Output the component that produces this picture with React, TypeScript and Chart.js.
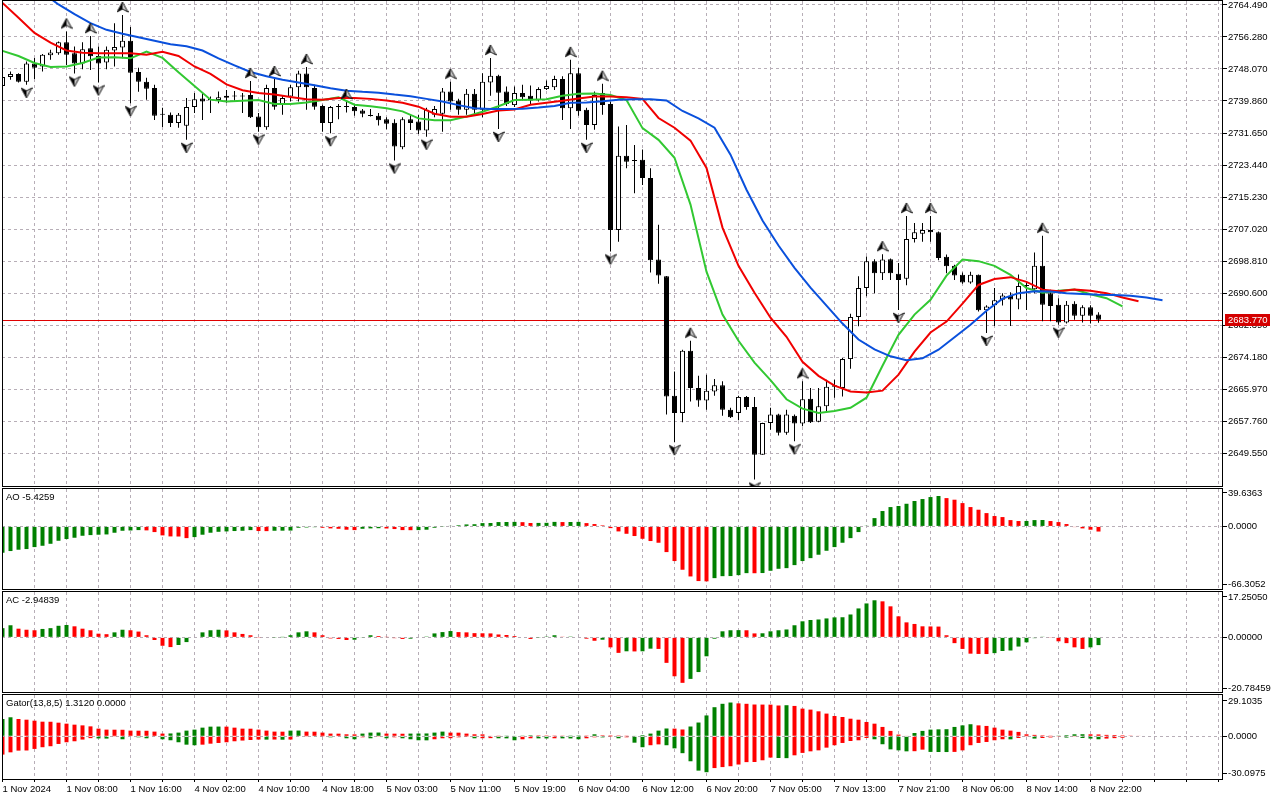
import React, { useEffect, useRef } from "react";
import { Chart, registerables } from "chart.js";

Chart.register(...registerables);

// ---------------- data ----------------
const xLabels = [
  "1 Nov 2024", "1 Nov 08:00", "1 Nov 16:00", "4 Nov 02:00", "4 Nov 10:00", "4 Nov 18:00",
  "5 Nov 03:00", "5 Nov 11:00", "5 Nov 19:00", "6 Nov 04:00", "6 Nov 12:00", "6 Nov 20:00",
  "7 Nov 05:00", "7 Nov 13:00", "7 Nov 21:00", "8 Nov 06:00", "8 Nov 14:00", "8 Nov 22:00",
];

const priceTicks = [
  2764.49, 2756.28, 2748.07, 2739.86, 2731.65, 2723.44, 2715.23, 2707.02,
  2698.81, 2690.6, 2682.39, 2674.18, 2665.97, 2657.76, 2649.55,
];
const priceMin = 2641.16;
const priceMax = 2765.49;
const currentPrice = 2683.77;

const opens = [
  2743.7, 2746.0, 2746.8, 2744.8, 2749.5, 2748.7, 2751.6, 2752.1, 2754.9, 2752.1,
  2749.5, 2753.4, 2751.4, 2749.7, 2752.8, 2753.6, 2755.3, 2747.3, 2744.8, 2743.2,
  2736.3, 2736.3, 2734.2, 2733.5, 2738.3, 2740.5, 2740.1, 2740.1, 2741.2, 2741.2,
  2741.2, 2741.4, 2735.9, 2733.1, 2743.2, 2738.9, 2741.0, 2743.4, 2746.9, 2743.2,
  2738.6, 2734.2, 2738.3, 2738.3, 2738.3, 2737.4, 2736.1, 2736.1, 2735.2, 2734.3,
  2728.0, 2735.2, 2734.6, 2732.3, 2736.3, 2736.6, 2742.3, 2740.0, 2737.6, 2741.7,
  2737.6, 2744.6, 2746.3, 2742.3, 2738.8, 2741.9, 2741.2, 2740.1, 2742.9, 2743.4,
  2745.5, 2738.0, 2747.0, 2737.6, 2733.7, 2741.9, 2739.1, 2706.8, 2725.8, 2724.7,
  2724.8, 2720.1, 2699.2, 2694.9, 2664.3, 2659.9, 2675.8, 2666.3, 2663.1, 2665.4,
  2667.0, 2660.7, 2659.9, 2664.0, 2661.4, 2649.2, 2657.3, 2659.5, 2654.8, 2659.2,
  2657.2, 2663.5, 2657.6, 2661.6, 2666.6, 2666.3, 2673.7, 2684.5, 2691.9, 2698.8,
  2695.7, 2699.3, 2695.6, 2694.3, 2704.5, 2705.8, 2706.8, 2706.2, 2699.9, 2697.6,
  2695.3, 2693.3, 2695.3, 2686.2, 2687.5, 2688.9, 2689.9, 2689.0, 2692.4, 2691.6,
  2697.6, 2690.6, 2687.6, 2683.1, 2687.9, 2684.8, 2687.0, 2685.1,
];
const highs = [
  2746.6, 2747.4, 2747.0, 2750.0, 2750.9, 2751.9, 2753.0, 2755.1, 2757.7, 2753.8,
  2754.9, 2756.5, 2753.8, 2753.8, 2759.8, 2761.9, 2758.8, 2748.4, 2745.8, 2744.0,
  2738.1, 2736.9, 2736.8, 2740.6, 2741.9, 2741.9, 2741.0, 2742.3, 2742.7, 2742.4,
  2741.9, 2745.0, 2736.8, 2744.0, 2745.5, 2741.4, 2744.0, 2747.6, 2748.6, 2744.0,
  2738.9, 2738.6, 2739.1, 2739.6, 2738.9, 2737.8, 2737.8, 2736.8, 2735.7, 2735.2,
  2735.7, 2736.3, 2736.3, 2738.1, 2738.6, 2743.2, 2744.8, 2740.4, 2742.9, 2742.9,
  2747.0, 2750.9, 2746.6, 2743.6, 2743.6, 2744.0, 2743.8, 2743.4, 2745.1, 2746.3,
  2746.2, 2750.4, 2748.3, 2738.1, 2742.3, 2744.3, 2739.7, 2733.3, 2733.7, 2728.6,
  2727.4, 2722.6, 2708.1, 2695.0, 2670.5, 2676.1, 2678.4, 2669.4, 2669.7, 2668.6,
  2668.0, 2661.2, 2664.3, 2664.2, 2664.0, 2657.4, 2661.2, 2659.7, 2660.7, 2659.5,
  2668.0, 2666.3, 2666.3, 2668.4, 2668.4, 2674.0, 2685.3, 2694.9, 2700.0, 2699.3,
  2700.6, 2699.5, 2698.3, 2710.4, 2708.6, 2708.6, 2710.4, 2706.4, 2700.5, 2697.9,
  2695.9, 2696.1, 2695.4, 2687.5, 2691.9, 2690.6, 2690.8, 2695.4, 2693.3, 2701.0,
  2705.3, 2691.5, 2689.3, 2688.6, 2688.5, 2687.5, 2687.5, 2685.7,
];
const lows = [
  2743.2, 2745.3, 2744.6, 2744.0, 2745.5, 2747.4, 2750.4, 2751.7, 2749.1, 2746.9,
  2748.0, 2747.8, 2744.6, 2748.0, 2748.7, 2750.8, 2739.3, 2742.2, 2740.2, 2735.0,
  2733.2, 2733.2, 2733.0, 2729.9, 2736.8, 2735.0, 2736.8, 2739.3, 2739.4, 2739.9,
  2736.8, 2735.5, 2732.0, 2732.5, 2737.6, 2736.3, 2739.7, 2739.7, 2737.6, 2737.6,
  2732.0, 2731.6, 2735.2, 2736.9, 2736.1, 2735.7, 2735.9, 2733.6, 2732.6, 2724.6,
  2727.5, 2732.4, 2731.4, 2730.7, 2735.7, 2732.0, 2737.6, 2736.3, 2736.3, 2736.3,
  2735.7, 2741.2, 2732.7, 2738.6, 2738.3, 2740.0, 2739.1, 2739.7, 2742.7, 2742.7,
  2735.0, 2732.7, 2736.1, 2729.9, 2732.5, 2736.3, 2701.3, 2703.8, 2722.6, 2716.2,
  2718.3, 2695.9, 2693.0, 2659.5, 2652.4, 2657.5, 2662.8, 2661.5, 2660.7, 2664.3,
  2659.2, 2658.6, 2658.0, 2660.7, 2642.8, 2649.2, 2655.6, 2654.1, 2654.3, 2652.6,
  2656.5, 2657.3, 2657.5, 2660.3, 2663.8, 2664.1, 2671.2, 2682.1, 2689.8, 2690.6,
  2694.0, 2694.0, 2686.3, 2692.6, 2703.6, 2703.8, 2703.8, 2699.0, 2695.7, 2694.0,
  2693.0, 2693.0, 2685.9, 2680.4, 2682.2, 2687.4, 2682.2, 2686.5, 2686.3, 2690.6,
  2683.4, 2683.4, 2682.5, 2682.8, 2683.8, 2683.1, 2682.8, 2683.0,
];
const closes = [
  2746.0, 2746.8, 2744.8, 2749.5, 2748.4, 2751.7, 2752.3, 2754.9, 2751.7, 2749.5,
  2753.1, 2751.3, 2749.5, 2753.0, 2753.7, 2755.3, 2747.1, 2744.8, 2743.0, 2736.1,
  2736.3, 2734.2, 2736.3, 2738.3, 2740.3, 2739.7, 2740.2, 2740.8, 2740.7, 2741.0,
  2741.0, 2735.7, 2733.1, 2743.2, 2738.4, 2740.6, 2743.4, 2746.9, 2743.4, 2738.4,
  2734.2, 2738.3, 2738.5, 2738.4, 2737.2, 2736.6, 2736.0, 2734.9, 2734.0, 2728.2,
  2735.2, 2734.2, 2732.3, 2737.6, 2737.8, 2742.3, 2739.7, 2737.6, 2741.7, 2737.6,
  2744.8, 2746.3, 2742.0, 2739.1, 2741.9, 2740.8, 2740.0, 2742.9, 2743.7, 2745.5,
  2738.0, 2747.0, 2737.2, 2733.7, 2741.4, 2738.8, 2706.8, 2725.8, 2724.3, 2724.5,
  2720.1, 2699.0, 2695.1, 2664.1, 2659.9, 2675.8, 2666.3, 2663.1, 2665.6, 2667.0,
  2660.7, 2658.8, 2664.0, 2661.4, 2649.2, 2657.3, 2659.5, 2654.8, 2659.5, 2657.2,
  2663.4, 2657.5, 2661.6, 2666.6, 2667.0, 2673.7, 2684.5, 2691.9, 2698.8, 2695.7,
  2699.2, 2695.7, 2694.0, 2704.5, 2706.2, 2706.8, 2706.2, 2699.6, 2697.5, 2695.1,
  2693.3, 2695.3, 2686.2, 2687.2, 2688.8, 2690.0, 2689.0, 2692.4, 2692.6, 2697.6,
  2687.6, 2687.3, 2683.1, 2687.6, 2684.8, 2687.0, 2684.8, 2683.77,
];

const upFractalBars = [8, 11, 15, 31, 34, 38, 43, 56, 61, 71, 75, 86, 100, 110, 113, 116, 130];
const downFractalBars = [3, 9, 12, 16, 23, 32, 41, 49, 53, 62, 73, 76, 84, 94, 99, 112, 123, 132];

// Alligator lines (already shifted forward), one value every 2 bars
const jawStart = 1;
const jawValues = [
  2775.0, 2770.9, 2767.6, 2764.6, 2762.1, 2759.8, 2758.1, 2757.1, 2756.2, 2755.3,
  2754.4, 2753.9, 2752.8, 2750.8, 2749.0, 2747.3, 2746.2, 2745.3, 2744.6, 2743.9,
  2743.1, 2742.5, 2742.2, 2742.0, 2741.5, 2741.1, 2740.4, 2739.7, 2738.8, 2738.0,
  2737.8, 2737.8, 2737.9, 2738.2, 2738.6, 2739.4, 2739.5, 2739.8, 2740.2, 2740.3,
  2740.3, 2740.0, 2737.3, 2735.4, 2733.0, 2726.1, 2717.1, 2709.2, 2702.8, 2697.1,
  2692.0, 2687.4, 2682.8, 2678.7, 2676.2, 2674.4, 2673.4, 2673.9, 2676.1, 2679.3,
  2682.5, 2686.1, 2689.2, 2690.6, 2691.1, 2691.0, 2690.6, 2690.4, 2690.2, 2690.1,
  2689.9, 2689.5, 2688.8,
];
const teethStart = 0;
const teethValues = [
  2765.0, 2761.2, 2757.3, 2754.8, 2752.8, 2752.2, 2752.1, 2752.1, 2752.1, 2751.7,
  2752.5, 2751.4, 2748.7, 2746.8, 2744.1, 2742.6, 2741.9, 2741.5, 2740.9, 2740.3,
  2740.2, 2740.6, 2740.6, 2740.4, 2740.0, 2739.4, 2738.4, 2736.6, 2735.8, 2735.8,
  2736.5, 2737.4, 2737.7, 2738.9, 2739.4, 2739.9, 2740.5, 2741.0, 2741.0, 2740.8,
  2740.4, 2735.5, 2733.0, 2729.7, 2722.7, 2707.4, 2697.6, 2690.7, 2684.3, 2679.4,
  2673.0, 2669.4, 2666.9, 2665.4, 2665.1, 2665.6, 2669.7, 2675.6, 2680.5, 2683.3,
  2687.9, 2692.7, 2694.2, 2694.7, 2693.5, 2691.5, 2691.1, 2691.5, 2691.2, 2690.6,
  2689.5, 2688.5,
];
const lipsStart = 0;
const lipsValues = [
  2752.7, 2751.4, 2749.6, 2748.6, 2748.7, 2749.6, 2751.0, 2751.1, 2750.8, 2752.5,
  2750.9, 2747.2, 2743.7, 2740.2, 2739.7, 2739.9, 2740.1, 2739.1, 2739.1, 2739.5,
  2740.1, 2740.8, 2738.9, 2738.5, 2738.0, 2737.2, 2735.4, 2734.9, 2734.9, 2735.9,
  2737.1, 2738.5, 2740.1, 2740.2, 2740.3, 2741.2, 2741.7, 2741.8, 2741.4, 2740.1,
  2732.9, 2729.9, 2725.3, 2713.3, 2696.1, 2685.1, 2678.4, 2672.8, 2668.3, 2663.4,
  2661.0, 2659.9, 2660.4, 2661.2, 2663.8, 2672.0, 2679.9, 2685.1, 2688.9, 2695.1,
  2699.2, 2698.8, 2697.6, 2695.3, 2691.9, 2690.7, 2691.2, 2691.5, 2690.3, 2689.3,
  2687.2,
];

const aoValues = [
  -27.9, -26.1, -24.7, -24.0, -21.9, -20.5, -18.4, -15.2, -13.4, -12.0,
  -9.9, -9.2, -8.8, -8.5, -6.7, -4.6, -4.3, -3.9, -4.2, -6.0,
  -9.5, -10.6, -10.7, -12.4, -11.3, -8.8, -6.7, -5.7, -5.3, -4.9,
  -4.6, -3.9, -4.9, -5.0, -4.6, -4.5, -4.4, -1.4, -1.1, -0.8,
  -1.4, -2.1, -2.5, -3.5, -3.9, -2.5, -2.1, -1.9, -2.2, -2.8,
  -3.9, -4.0, -3.9, -3.5, -1.4, -0.3, 0.4, 1.2, 2.1, 2.3,
  3.5, 3.6, 4.6, 4.7, 4.8, 4.5, 3.6, 3.7, 3.8, 4.8,
  4.6, 4.7, 4.8, 3.5, 2.5, 1.1, -1.8, -5.3, -7.8, -10.2,
  -13.1, -15.5, -17.3, -27.2, -36.7, -45.9, -53.0, -57.9, -58.2, -54.8,
  -52.7, -52.6, -51.6, -49.5, -49.6, -49.4, -47.0, -44.9, -44.2, -41.0,
  -36.7, -33.6, -30.0, -25.8, -21.9, -17.3, -12.4, -6.0, 0.7, 8.8,
  16.3, 20.5, 21.6, 24.0, 26.9, 29.0, 31.1, 32.2, 30.0, 28.3,
  24.7, 20.5, 17.7, 14.1, 11.0, 9.9, 6.7, 5.7, 5.8, 6.7,
  6.8, 5.7, 4.6, 2.5, -0.7, -2.1, -3.5, -5.4259,
];
const acValues = [
  3.5, 4.6, 3.3, 2.9, 2.7, 3.2, 3.5, 4.4, 4.7, 4.2,
  3.3, 2.7, 1.4, 1.2, 1.9, 2.9, 2.7, 2.2, 0.8, -1.0,
  -3.2, -3.7, -2.9, -1.8, -0.2, 1.9, 2.7, 2.9, 2.65, 1.9,
  1.3, 0.8, -0.1, -0.2, -0.1, 0.05, 0.8, 1.9, 2.3, 1.9,
  0.8, -0.4, -0.6, -1.0, -0.9, -0.25, 0.8, 0.5, 0.1, -0.3,
  -0.6, -0.5, -0.2, 0.3, 1.5, 2.0, 2.4, 2.0, 1.9, 1.6,
  1.55, 1.5, 1.1, 0.9, 0.5, 0.0, -0.6, -0.1, 0.3, 0.8,
  0.25, 0.3, 0.2, -0.5, -1.3, -0.9, -3.8, -5.9, -5.3, -5.35,
  -5.3, -4.3, -4.4, -9.7, -14.8, -17.3, -15.8, -13.2, -7.2, -0.5,
  2.3, 2.7, 2.75, 2.7, 1.5, 1.55, 2.3, 2.7, 3.0, 4.6,
  6.1, 6.6, 6.8, 7.2, 7.6, 7.65, 8.7, 11.0, 12.9, 14.1,
  13.7, 11.8, 8.0, 5.7, 5.1, 4.2, 4.15, 4.1, 0.8, -2.2,
  -4.4, -6.2, -6.3, -6.35, -6.0, -5.2, -5.0, -3.5, -1.9, -0.3,
  0.25, -0.25, -1.5, -2.2, -3.8, -4.4, -3.8, -2.94839,
];
const gatorUpper = [
  12.2, 13.4, 12.2, 11.7, 11.0, 10.3, 10.25, 9.6, 8.9, 8.2,
  7.7, 7.0, 5.4, 4.7, 4.65, 4.6, 4.0, 3.95, 3.9, 3.3,
  1.9, 2.0, 2.6, 4.0, 4.7, 6.1, 6.8, 6.85, 6.8, 6.1,
  5.4, 5.35, 4.7, 4.0, 3.3, 3.25, 4.0, 4.05, 3.3, 3.25,
  2.6, 1.9, 1.85, 1.4, 1.35, 1.9, 2.6, 2.65, 1.9, 1.85,
  1.8, 1.9, 1.95, 2.0, 2.6, 3.3, 2.6, 2.55, 1.9, 1.4,
  1.35, 0.3, 0.1, 0.2, 0.3, 0.5, 0.7, 0.65, 0.6, 0.55,
  0.5, 0.55, 0.6, 0.55, 1.4, 0.7, 0.65, 0.6, 0.1, 0.3,
  0.8, 1.9, 4.0, 5.5, 5.4, 4.8, 6.9, 9.7, 14.7, 20.5,
  22.9, 23.8, 23.2, 22.9, 22.4, 22.35, 22.3, 21.7, 21.9, 21.4,
  19.5, 18.8, 17.6, 16.0, 14.3, 13.6, 12.4, 11.7, 10.1, 8.9,
  6.6, 3.8, 1.2, 0.3, 2.3, 3.8, 4.7, 4.9, 5.0, 6.6,
  7.7, 8.5, 7.7, 7.3, 6.1, 4.7, 4.0, 3.1, 1.4, 1.0,
  0.7, 0.1, 0.5, 0.8, 1.4, 1.45, 1.4, 1.312, 1.0, 0.9,
  0.7, 0.5, 0.4,
];
const gatorLower = [
  -12.9, -11.3, -10.1, -10.0, -8.9, -7.7, -7.0, -5.4, -4.2, -3.5,
  -2.3, -1.3, -1.5, -1.6, -0.5, -2.1, -0.3, -0.7, -1.4, -0.4,
  -2.1, -2.8, -4.2, -5.9, -6.3, -5.9, -5.2, -4.7, -4.2, -3.5,
  -3.0, -2.6, -2.3, -2.35, -2.3, -2.4, -2.3, -0.3, -0.2, -0.3,
  -0.2, -0.7, -0.4, -1.4, -2.1, -0.7, -1.4, -0.5, -1.4, -0.7,
  -1.4, -2.1, -2.8, -2.85, -2.1, -1.4, -1.35, -0.7, -0.1, -1.4,
  -1.35, -1.3, -1.4, -1.45, -2.8, -2.1, -1.4, -1.45, -1.5, -1.4,
  -1.45, -1.5, -2.1, -1.4, -0.7, -0.75, -0.1, -1.4, -0.7, -4.5,
  -7.7, -6.3, -5.7, -6.3, -8.5, -11.9, -17.6, -24.2, -25.3, -22.4,
  -21.7, -21.1, -19.9, -18.2, -18.1, -16.9, -15.0, -15.3, -15.4, -13.4,
  -11.7, -10.6, -9.9, -8.0, -6.3, -4.7, -3.3, -2.8, -1.2, -2.1,
  -5.6, -9.2, -9.9, -10.6, -10.5, -9.4, -11.0, -11.05, -11.1, -11.0,
  -9.9, -6.3, -4.7, -4.0, -2.8, -2.1, -2.15, -1.2, -0.5, -1.6,
  -1.2, -0.8, -0.5, -0.9, -0.5, -1.2, -1.6, -2.1, -1.6, -1.3,
  -1.0,
];

const aoRange = [-66.3052, 39.6363];
const acRange = [-20.78459, 17.2505];
const gatorRange = [-30.0975, 29.1035];
const aoAxisLabels = ["39.6363", "0.0000", "-66.3052"];
const acAxisLabels = ["17.25050", "0.00000", "-20.78459"];
const gatorAxisLabels = ["29.1035", "0.0000", "-30.0975"];
const aoTitle = "AO -5.4259";
const acTitle = "AC -2.94839";
const gatorTitle = "Gator(13,8,5) 1.3120 0.0000";

// ---------------- layout / style ----------------
const W = 1280;
const PLOT_LEFT = 2;
const PLOT_RIGHT = 1222;
const AXIS_W = W - PLOT_RIGHT;
const BAR_PX = 8;
const X_MIN = -0.0625;
const X_MAX = X_MIN + (PLOT_RIGHT - PLOT_LEFT) / BAR_PX;
const X_TICK_STEP = 4;
const GRID = "#b7aeb7";
const FONT = { family: "'Liberation Sans', Arial, sans-serif", size: 9.5 };
const FONT_STR = "9.5px 'Liberation Sans', Arial, sans-serif";
const H_GREEN = "#008000";
const H_RED = "#ff0000";
const JAW_COLOR = "#0a50dc";
const TEETH_COLOR = "#f00000";
const LIPS_COLOR = "#32c832";

const panes = [
  { key: "main", top: 0, height: 487, padTop: 1, padBottom: 1 },
  { key: "ao", top: 487, height: 103, padTop: 2, padBottom: 1 },
  { key: "ac", top: 590, height: 103, padTop: 2, padBottom: 1 },
  { key: "gator", top: 693, height: 107, padTop: 2, padBottom: 0 },
];
const BOTTOM_AXIS_H = 21;

function xTickValues() {
  const out = [];
  for (let v = 0; v <= X_MAX; v += X_TICK_STEP) out.push(v);
  return out;
}

function trendColors(vals, useAbs, firstUp) {
  const out = [];
  let cur = firstUp ? H_GREEN : H_RED;
  for (let i = 0; i < vals.length; i++) {
    if (i > 0) {
      const a = useAbs ? Math.abs(vals[i]) : vals[i];
      const b = useAbs ? Math.abs(vals[i - 1]) : vals[i - 1];
      if (a > b) cur = H_GREEN;
      else if (a < b) cur = H_RED;
    }
    out.push(cur);
  }
  return out;
}

function makeArrow(up) {
  const c = document.createElement("canvas");
  c.width = 12;
  c.height = 32;
  const g = c.getContext("2d");
  const cy = up ? 16 - 8 : 16 + 8;
  const h = 10;
  const apexY = up ? cy - h / 2 : cy + h / 2;
  const baseY = up ? cy + h / 2 : cy - h / 2;
  const notchY = up ? baseY - 3 : baseY + 3;
  g.lineWidth = 1;
  g.beginPath();
  g.moveTo(6, apexY);
  g.lineTo(6, notchY);
  g.lineTo(11.5, baseY);
  g.closePath();
  g.fillStyle = "#c8c8c8";
  g.fill();
  g.beginPath();
  g.moveTo(6, apexY);
  g.lineTo(0.5, baseY);
  g.lineTo(6, notchY);
  g.closePath();
  g.fillStyle = "#000";
  g.fill();
  g.beginPath();
  g.moveTo(6, apexY);
  g.lineTo(11.5, baseY);
  g.lineTo(6, notchY);
  g.lineTo(0.5, baseY);
  g.closePath();
  g.strokeStyle = "#1a1a1a";
  g.stroke();
  return c;
}

// ---------------- plugins ----------------
const framePlugin = {
  id: "frame",
  afterDraw(chart) {
    const { ctx, chartArea: a } = chart;
    ctx.save();
    ctx.strokeStyle = "#000";
    ctx.lineWidth = 1;
    ctx.strokeRect(a.left + 0.5, a.top - 0.5, a.right - a.left, a.bottom - a.top + 1);
    ctx.restore();
  },
};

const paneLabelPlugin = {
  id: "paneLabel",
  afterDraw(chart, _args, opts) {
    if (!opts || !opts.text) return;
    const { ctx, chartArea: a } = chart;
    ctx.save();
    ctx.font = FONT_STR;
    ctx.fillStyle = "#000";
    ctx.textAlign = "left";
    ctx.textBaseline = "alphabetic";
    ctx.fillText(opts.text, 6, a.top + 11);
    ctx.restore();
  },
};

const priceLinePlugin = {
  id: "priceLine",
  beforeDatasetsDraw(chart) {
    const { ctx, chartArea: a, scales } = chart;
    const py = Math.round(scales.y.getPixelForValue(currentPrice)) + 0.5;
    ctx.save();
    ctx.strokeStyle = "#e00000";
    ctx.lineWidth = 1;
    ctx.beginPath();
    ctx.moveTo(a.left, py);
    ctx.lineTo(a.right, py);
    ctx.stroke();
    ctx.restore();
  },
  afterDraw(chart) {
    const { ctx, chartArea: a, scales } = chart;
    const py = Math.round(scales.y.getPixelForValue(currentPrice));
    ctx.save();
    ctx.fillStyle = "#d40000";
    ctx.fillRect(a.right + 3, py - 6, 45, 12);
    ctx.fillStyle = "#fff";
    ctx.font = FONT_STR;
    ctx.textAlign = "left";
    ctx.textBaseline = "middle";
    ctx.fillText(currentPrice.toFixed(3), a.right + 6, py + 0.5);
    ctx.restore();
  },
};

// ---------------- scale builders ----------------
function xScale(bottom) {
  const ticks = xTickValues();
  return {
    type: "linear",
    min: X_MIN,
    max: X_MAX,
    bounds: "data",
    offset: false,
    afterBuildTicks: (s) => {
      s.ticks = ticks.map((v) => ({ value: v }));
    },
    afterFit: (s) => {
      s.height = bottom ? BOTTOM_AXIS_H : 0;
      s.paddingLeft = 0;
      s.paddingRight = 0;
      s.paddingTop = 0;
      s.paddingBottom = 0;
    },
    grid: {
      color: (c) => (c.tick && c.tick.value === 0 ? "rgba(0,0,0,0)" : GRID),
      lineWidth: 1,
      offset: false,
      drawTicks: bottom,
      tickLength: 3,
      tickColor: "#000",
      tickWidth: 1,
      tickBorderDash: [],
    },
    border: { display: false, dash: [3, 3] },
    ticks: {
      display: bottom,
      autoSkip: false,
      maxRotation: 0,
      minRotation: 0,
      align: "start",
      padding: 2,
      font: FONT,
      color: "#000",
      callback: (v) => {
        const k = Math.round(Number(v));
        if (k % 8 !== 0) return "";
        const idx = k / 8;
        return idx < xLabels.length ? xLabels[idx] : "";
      },
    },
  };
}

function priceScale() {
  return {
    type: "linear",
    position: "right",
    min: priceMin,
    max: priceMax,
    bounds: "data",
    afterFit: (s) => {
      s.width = AXIS_W;
      s.paddingTop = 0;
      s.paddingBottom = 0;
      s.paddingLeft = 0;
      s.paddingRight = 0;
    },
    afterBuildTicks: (s) => {
      s.ticks = priceTicks.map((v) => ({ value: v }));
    },
    grid: {
      color: GRID,
      lineWidth: 1,
      drawTicks: true,
      tickLength: 5,
      tickColor: "#000",
      tickWidth: 1,
      tickBorderDash: [],
    },
    border: { display: false, dash: [3, 3] },
    ticks: {
      autoSkip: false,
      font: FONT,
      color: "#000",
      padding: 1,
      callback: (v) => Number(v).toFixed(3),
    },
  };
}

function indicatorScale(range, labels, areaH, topOff, botOff) {
  const [min, max] = range;
  const per = (max - min) / areaH;
  const tickVals = [max - topOff * per, 0, min + botOff * per];
  return {
    type: "linear",
    position: "right",
    min,
    max,
    bounds: "data",
    afterFit: (s) => {
      s.width = AXIS_W;
      s.paddingTop = 0;
      s.paddingBottom = 0;
      s.paddingLeft = 0;
      s.paddingRight = 0;
    },
    afterBuildTicks: (s) => {
      s.ticks = tickVals.map((v) => ({ value: v }));
    },
    grid: {
      color: (c) => (c.tick && c.tick.value === 0 ? GRID : "rgba(0,0,0,0)"),
      lineWidth: 1,
      drawTicks: true,
      tickLength: 5,
      tickColor: "#000",
      tickWidth: 1,
      tickBorderDash: [],
    },
    border: { display: false, dash: [3, 3] },
    ticks: {
      autoSkip: false,
      font: FONT,
      color: "#000",
      padding: 1,
      callback: (_v, i) => labels[i],
    },
  };
}

function baseOptions(pane, bottom, yScale, title) {
  return {
    responsive: false,
    maintainAspectRatio: false,
    animation: false,
    devicePixelRatio: 1,
    events: [],
    layout: {
      autoPadding: false,
      padding: { left: PLOT_LEFT, right: 0, top: pane.padTop, bottom: pane.padBottom },
    },
    plugins: {
      legend: { display: false },
      tooltip: { enabled: false },
      title: { display: false },
      paneLabel: { text: title },
    },
    scales: { x: xScale(bottom), y: yScale },
  };
}

function histDataset(values, colors, thickness) {
  return {
    type: "bar",
    data: values.map((v, k) => ({ x: k, y: v })),
    backgroundColor: colors,
    borderWidth: 0,
    barThickness: thickness,
    grouped: false,
    inflateAmount: 0,
  };
}

function mainConfig() {
  const upArrow = makeArrow(true);
  const downArrow = makeArrow(false);
  const line = (start, vals, color) => ({
    type: "line",
    data: vals.map((v, i) => ({ x: start + 2 * i, y: v })),
    borderColor: color,
    borderWidth: 2,
    pointRadius: 0,
    tension: 0,
    fill: false,
    order: 1,
  });
  return {
    type: "bar",
    data: {
      datasets: [
        {
          type: "scatter",
          data: upFractalBars.map((k) => ({ x: k, y: highs[k] })),
          pointStyle: upArrow,
          pointRadius: 5,
          order: 0,
        },
        {
          type: "scatter",
          data: downFractalBars.map((k) => ({ x: k, y: lows[k] })),
          pointStyle: downArrow,
          pointRadius: 5,
          order: 0,
        },
        line(jawStart, jawValues, JAW_COLOR),
        line(teethStart, teethValues, TEETH_COLOR),
        line(lipsStart, lipsValues, LIPS_COLOR),
        {
          type: "bar",
          data: opens.map((o, k) => ({ x: k, y: [o, closes[k]] })),
          backgroundColor: opens.map((o, k) => (closes[k] >= o ? "#ffffff" : "#000000")),
          borderColor: "#000",
          borderWidth: 1,
          borderSkipped: false,
          barThickness: 5,
          minBarLength: 1,
          grouped: false,
          inflateAmount: 0,
          order: 2,
        },
        {
          type: "bar",
          data: lows.map((l, k) => ({ x: k, y: [l, highs[k]] })),
          backgroundColor: "#000",
          borderWidth: 0,
          barThickness: 1,
          grouped: false,
          inflateAmount: 0,
          order: 3,
        },
      ],
    },
    options: baseOptions(panes[0], false, priceScale(), ""),
    plugins: [priceLinePlugin, framePlugin, paneLabelPlugin],
  };
}

function aoConfig() {
  const p = panes[1];
  const areaH = p.height - p.padTop - p.padBottom;
  return {
    type: "bar",
    data: { datasets: [histDataset(aoValues, trendColors(aoValues, false, true), 4)] },
    options: baseOptions(p, false, indicatorScale(aoRange, aoAxisLabels, areaH, 4, 5), aoTitle),
    plugins: [framePlugin, paneLabelPlugin],
  };
}

function acConfig() {
  const p = panes[2];
  const areaH = p.height - p.padTop - p.padBottom;
  return {
    type: "bar",
    data: { datasets: [histDataset(acValues, trendColors(acValues, false, true), 4)] },
    options: baseOptions(p, false, indicatorScale(acRange, acAxisLabels, areaH, 5, 4), acTitle),
    plugins: [framePlugin, paneLabelPlugin],
  };
}

function gatorConfig() {
  const p = panes[3];
  const areaH = p.height - p.padTop - BOTTOM_AXIS_H;
  return {
    type: "bar",
    data: {
      datasets: [
        histDataset(gatorUpper, trendColors(gatorUpper, true, true), 4),
        histDataset(gatorLower, trendColors(gatorLower, true, false), 4),
      ],
    },
    options: baseOptions(p, true, indicatorScale(gatorRange, gatorAxisLabels, areaH, 6, 6), gatorTitle),
    plugins: [framePlugin, paneLabelPlugin],
  };
}

export default function App() {
  const r0 = useRef(null);
  const r1 = useRef(null);
  const r2 = useRef(null);
  const r3 = useRef(null);
  const refs = [r0, r1, r2, r3];

  useEffect(() => {
    const charts = [
      new Chart(r0.current, mainConfig()),
      new Chart(r1.current, aoConfig()),
      new Chart(r2.current, acConfig()),
      new Chart(r3.current, gatorConfig()),
    ];
    return () => charts.forEach((c) => c.destroy());
  }, []);

  return (
    <div
      style={{
        position: "absolute",
        left: 0,
        top: 0,
        width: W,
        height: 800,
        background: "#ffffff",
        overflow: "hidden",
      }}
    >
      {panes.map((p, i) => (
        <canvas
          key={p.key}
          ref={refs[i]}
          width={W}
          height={p.height}
          style={{ position: "absolute", left: 0, top: p.top, width: W, height: p.height, display: "block" }}
        />
      ))}
    </div>
  );
}
